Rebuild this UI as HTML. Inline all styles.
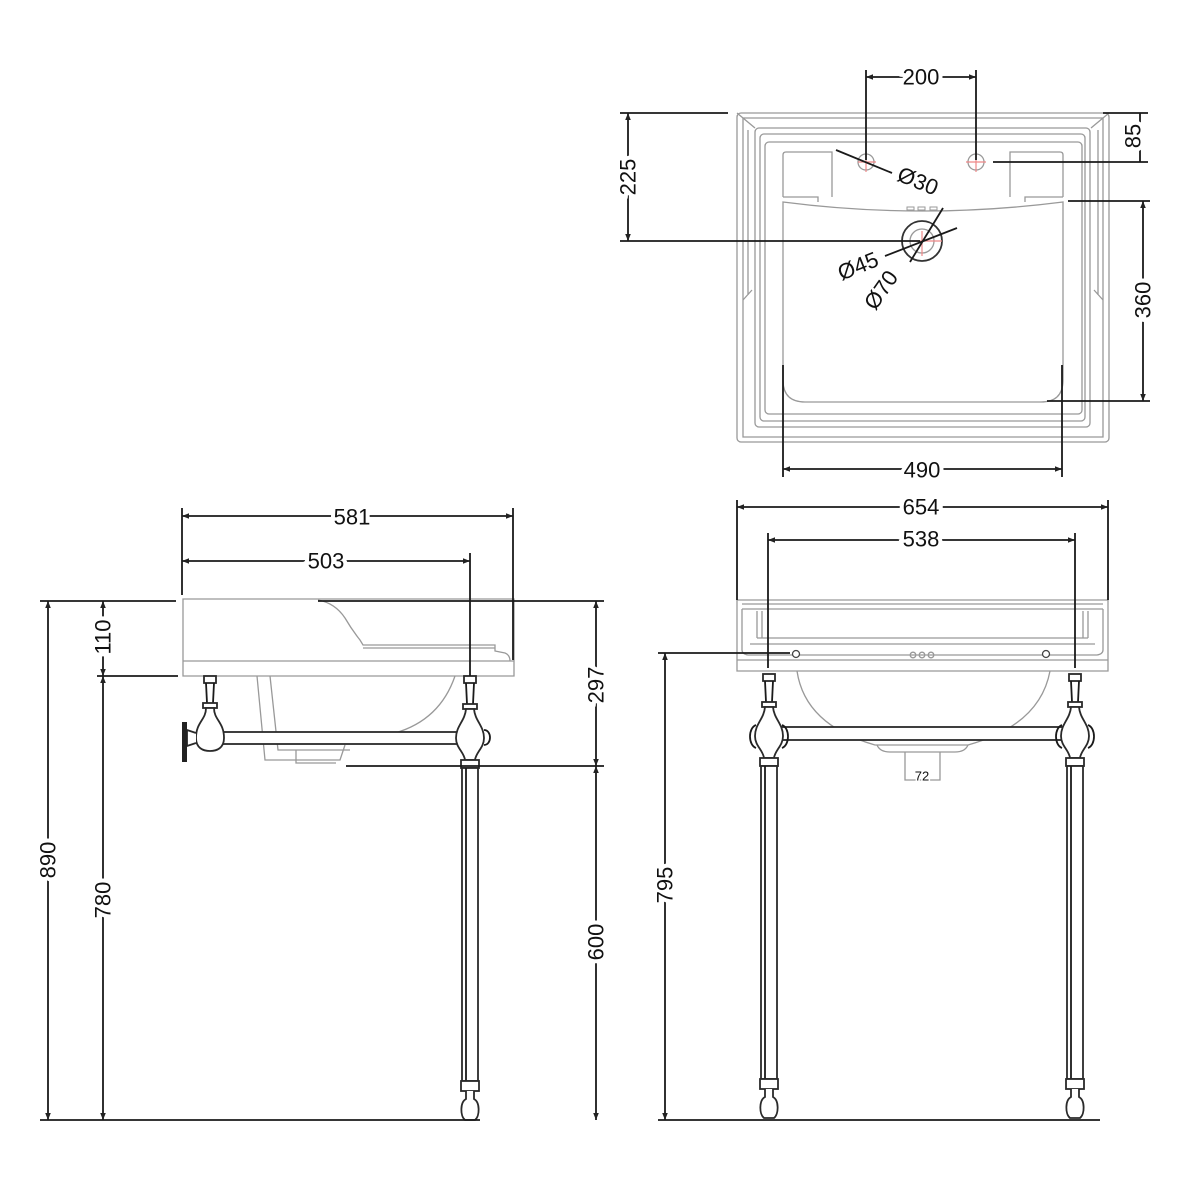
<!DOCTYPE html>
<html><head><meta charset="utf-8"><style>
html,body{margin:0;padding:0;background:#fff}
svg{display:block}
text{font-family:"Liberation Sans",Arial,sans-serif;font-size:22px;fill:#111;text-anchor:middle;dominant-baseline:central;paint-order:stroke;stroke:#fff;stroke-width:8px}
.d{stroke:#1a1a1a;stroke-width:1.8;fill:none}
.g{stroke:#999;stroke-width:1.3;fill:none}
.k{stroke:#2a2a2a;stroke-width:1.8;fill:#fff}
</style></head><body>
<svg width="1200" height="1200" viewBox="0 0 1200 1200" xmlns="http://www.w3.org/2000/svg">
<defs>
<marker id="a" viewBox="0 0 10 10" refX="10" refY="5" markerWidth="9" markerHeight="7" orient="auto-start-reverse" markerUnits="userSpaceOnUse"><path d="M0,1 L10,5 L0,9 z" fill="#222"/></marker>
<g id="leg">
 <rect x="-6" y="0" width="12" height="7" class="k"/>
 <path d="M-4,7 L-3,28 M4,7 L3,28" class="d"/>
 <rect x="-7" y="28" width="14" height="5" class="k"/>
 <path d="M-4,33 C-5,45 -14,50 -14,62 C-14,72 -6,76 -5,84 L5,84 C6,76 14,72 14,62 C14,50 5,45 4,33 Z" class="k"/>
 <rect x="-9" y="84" width="18" height="8" class="k"/>
 <rect x="-8" y="92" width="16" height="313" class="k"/>
 <line x1="-4" y1="92" x2="-4" y2="405" class="d" stroke-width="0.8"/>
 <rect x="-9" y="405" width="18" height="10" class="k"/>
 <path d="M-4,415 L-4,423 C-10,426 -10,440 -5,444 L5,444 C10,440 10,426 4,423 L4,415" class="k"/>
</g>
</defs>

<!-- ============ PLAN VIEW ============ -->
<rect x="737" y="113" width="372" height="329" rx="4" class="g"/>
<path d="M743,118 L1103,118 L1103,437 L743,437 Z" class="g"/>
<path d="M737,113 L755,128 M1109,113 L1091,128" class="g"/>
<rect x="755" y="128" width="335" height="299" rx="4" class="g"/>
<rect x="760" y="134" width="325" height="287" rx="4" class="g"/>
<rect x="765" y="142" width="317" height="272" rx="4" class="g"/>
<path d="M748,295 L748,130 M1098,295 L1098,130 M743,300 L752,290 M1103,300 L1094,290" class="g"/>
<path d="M783,197 L783,155 Q783,152 786,152 L832,152 L832,197 M783,197 L818,197 L818,202" class="g"/>
<path d="M1063,197 L1063,155 Q1063,152 1060,152 L1010,152 L1010,197 M1063,197 L1025,197 L1025,202" class="g"/>
<path d="M783,202 L783,380 Q783,402 805,402 L1041,402 Q1063,402 1063,380 L1063,202 Q922,220 783,202 Z" class="g"/>
<g fill="none" stroke="#999" stroke-width="1"><rect x="907" y="207" width="7" height="3"/><rect x="918" y="207" width="7" height="3"/><rect x="930" y="207" width="7" height="3"/></g>
<circle cx="922" cy="241" r="20" fill="none" stroke="#333" stroke-width="1.8"/>
<circle cx="922" cy="241" r="12" class="g"/>
<path d="M912,241 L942,241 M922,231 L922,256" stroke="#e88" stroke-width="1.2"/>
<circle cx="866" cy="162" r="8" class="g"/><circle cx="976" cy="162" r="8" class="g"/>
<path d="M858,162 L876,162 M866,152 L866,172 M966,162 L986,162 M976,152 L976,172" stroke="#e88" stroke-width="1.2"/>
<!-- plan dims -->
<line x1="866" y1="70" x2="866" y2="160" class="d"/><line x1="976" y1="70" x2="976" y2="160" class="d"/>
<line x1="866" y1="77" x2="976" y2="77" class="d" marker-start="url(#a)" marker-end="url(#a)"/>
<text x="921" y="77">200</text>
<line x1="620" y1="113" x2="728" y2="113" class="d"/><line x1="620" y1="241" x2="920" y2="241" class="d"/>
<line x1="628" y1="113" x2="628" y2="241" class="d" marker-start="url(#a)" marker-end="url(#a)"/>
<text x="628" y="177" transform="rotate(-90 628 177)">225</text>
<line x1="1103" y1="113" x2="1148" y2="113" class="d"/><line x1="993" y1="162" x2="1148" y2="162" class="d"/>
<line x1="1140" y1="113" x2="1140" y2="162" class="d"/>
<text x="1133" y="136" transform="rotate(-90 1133 136)">85</text>
<line x1="1068" y1="201" x2="1150" y2="201" class="d"/><line x1="1047" y1="401" x2="1150" y2="401" class="d"/>
<line x1="1143" y1="201" x2="1143" y2="401" class="d" marker-start="url(#a)" marker-end="url(#a)"/>
<text x="1143" y="300" transform="rotate(-90 1143 300)">360</text>
<line x1="783" y1="365" x2="783" y2="477" class="d"/><line x1="1062" y1="365" x2="1062" y2="477" class="d"/>
<line x1="783" y1="469" x2="1062" y2="469" class="d" marker-start="url(#a)" marker-end="url(#a)"/>
<text x="922" y="470">490</text>
<line x1="836" y1="150" x2="892" y2="173" class="d"/>
<text x="918" y="181" transform="rotate(22 918 181)">Ø30</text>
<line x1="910" y1="262" x2="943" y2="208" class="d"/>
<line x1="885" y1="256" x2="957" y2="228" class="d"/>
<text x="858" y="266" transform="rotate(-22 858 266)">Ø45</text>
<text x="881" y="290" transform="rotate(-55 881 290)">Ø70</text>

<!-- ============ SIDE VIEW ============ -->
<path d="M183,599 L514,599 L514,676 L183,676 Z" class="g"/>
<line x1="183" y1="661" x2="514" y2="661" class="g"/>
<path d="M318,600 Q335,603 345,618 Q352,630 360,640 L363,645 L495,645 L495,651 L505,653 Q510,655 510,661" class="g"/>
<path d="M363,648 L495,648" class="g"/>
<path d="M455,676 Q440,720 395,733" class="g"/>
<path d="M257,676 L265,760 L340,760 L345,745 M270,676 L278,750 L350,750 M296,750 L296,763 L336,763" class="g"/>
<rect x="218" y="732" width="246" height="12" class="k"/>
<g>
 <rect x="204" y="676" width="12" height="7" class="k"/>
 <path d="M206,683 L207,703 M214,683 L213,703" class="d"/>
 <rect x="203" y="703" width="14" height="5" class="k"/>
 <path d="M206,708 C206,720 196,722 196,738 C196,748 203,751 210,751 C217,751 224,748 224,738 C224,722 214,720 214,708 Z" class="k"/>
 <path d="M196,733 L187,730 L187,746 L196,743" class="k"/>
 <rect x="182" y="722" width="5" height="40" fill="#222"/>
</g>
<use href="#leg" x="470" y="676"/>
<path d="M484,730 C492,730 492,745 484,745" class="d"/>
<!-- side dims -->
<line x1="182" y1="508" x2="182" y2="595" class="d"/><line x1="513" y1="508" x2="513" y2="660" class="d"/>
<line x1="182" y1="516" x2="513" y2="516" class="d" marker-start="url(#a)" marker-end="url(#a)"/>
<text x="352" y="517">581</text>
<line x1="470" y1="553" x2="470" y2="676" class="d"/>
<line x1="182" y1="561" x2="470" y2="561" class="d" marker-start="url(#a)" marker-end="url(#a)"/>
<text x="326" y="561">503</text>
<line x1="40" y1="601" x2="176" y2="601" class="d"/><line x1="318" y1="601" x2="604" y2="601" class="d"/>
<line x1="40" y1="1120" x2="480" y2="1120" class="d"/>
<line x1="97" y1="676" x2="178" y2="676" class="d"/>
<line x1="346" y1="766" x2="604" y2="766" class="d"/>
<line x1="48" y1="601" x2="48" y2="1120" class="d" marker-start="url(#a)" marker-end="url(#a)"/>
<text x="48" y="860" transform="rotate(-90 48 860)">890</text>
<line x1="103" y1="601" x2="103" y2="676" class="d" marker-start="url(#a)" marker-end="url(#a)"/>
<text x="103" y="637" transform="rotate(-90 103 637)">110</text>
<line x1="103" y1="676" x2="103" y2="1120" class="d" marker-start="url(#a)" marker-end="url(#a)"/>
<text x="103" y="900" transform="rotate(-90 103 900)">780</text>
<line x1="596" y1="601" x2="596" y2="766" class="d" marker-start="url(#a)" marker-end="url(#a)"/>
<text x="596" y="685" transform="rotate(-90 596 685)">297</text>
<line x1="596" y1="766" x2="596" y2="1120" class="d" marker-start="url(#a)" marker-end="url(#a)"/>
<text x="596" y="942" transform="rotate(-90 596 942)">600</text>

<!-- ============ FRONT VIEW ============ -->
<path d="M737,600 L1108,600 L1108,671 L737,671 Z" class="g"/>
<path d="M742,604 L1103,604 M742,609 L1103,609 M757,611 L757,638 M762,611 L762,638 M1088,611 L1088,638 M1083,611 L1083,638 M757,638 L1088,638 M750,644 L1095,644 M742,609 L742,650 Q742,654 748,655 L1097,655 Q1103,654 1103,650 L1103,609 M737,660 L1108,660" class="g"/>
<circle cx="796" cy="654" r="3.5" fill="#fff" stroke="#444" stroke-width="1.3"/>
<circle cx="1046" cy="654" r="3.5" fill="#fff" stroke="#444" stroke-width="1.3"/>
<circle cx="913" cy="655" r="2.8" class="g"/><circle cx="922" cy="655" r="2.8" class="g"/><circle cx="931" cy="655" r="2.8" class="g"/>
<path d="M797,671 Q805,725 875,745 L968,745 Q1040,725 1050,671" class="g"/>
<path d="M877,745 Q880,752 890,752 L955,752 Q965,752 968,745" class="g"/>
<path d="M905,752 L905,780 L940,780 L940,752" class="g"/>
<text x="922" y="776" style="font-size:13px;stroke-width:3px">72</text>
<rect x="778" y="727" width="289" height="13" class="k"/>
<use href="#leg" x="769" y="674"/>
<use href="#leg" x="1075" y="674"/>
<path d="M756,725 C748,728 748,745 756,748 M782,725 C790,728 790,745 782,748 M1062,725 C1054,728 1054,745 1062,748 M1088,725 C1096,728 1096,745 1088,748" class="d"/>
<!-- front dims -->
<line x1="737" y1="500" x2="737" y2="600" class="d"/><line x1="1108" y1="500" x2="1108" y2="600" class="d"/>
<line x1="737" y1="507" x2="1108" y2="507" class="d" marker-start="url(#a)" marker-end="url(#a)"/>
<text x="921" y="507">654</text>
<line x1="768" y1="533" x2="768" y2="668" class="d"/><line x1="1075" y1="533" x2="1075" y2="668" class="d"/>
<line x1="768" y1="540" x2="1075" y2="540" class="d" marker-start="url(#a)" marker-end="url(#a)"/>
<text x="921" y="539">538</text>
<line x1="658" y1="653" x2="790" y2="653" class="d"/>
<line x1="658" y1="1120" x2="1100" y2="1120" class="d"/>
<line x1="665" y1="653" x2="665" y2="1120" class="d" marker-start="url(#a)" marker-end="url(#a)"/>
<text x="665" y="885" transform="rotate(-90 665 885)">795</text>
</svg>
</body></html>
